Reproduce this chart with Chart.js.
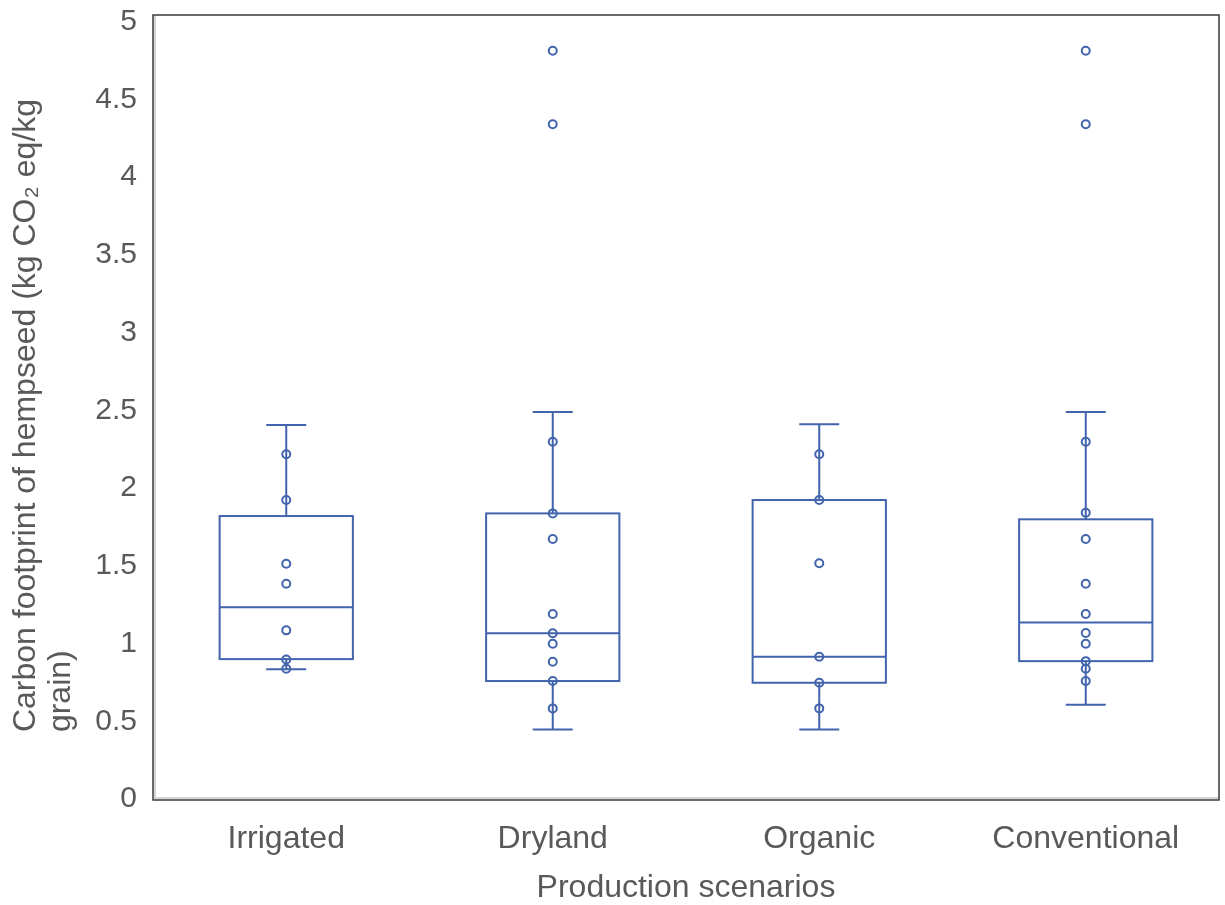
<!DOCTYPE html>
<html>
<head>
<meta charset="utf-8">
<title>Carbon footprint of hempseed</title>
<script src="https://cdn.jsdelivr.net/npm/chart.js@4"></script>
<style>
    html, body { margin: 0; padding: 0; background: #ffffff; }
    #wrap { width: 1225px; height: 905px; }
</style>
</head>
<body>
<div id="wrap"><canvas id="chart" width="1225" height="905"></canvas></div>
<script>
// ---- data ----
const categories = ["Irrigated", "Dryland", "Organic", "Conventional"];

// box statistics per scenario
const whiskerLow  = [0.834, 0.448, 0.448, 0.606];
const quartile1   = [0.900, 0.759, 0.748, 0.887];
const medians     = [1.233, 1.066, 0.915, 1.136];
const quartile3   = [1.820, 1.837, 1.923, 1.799];
const whiskerHigh = [2.405, 2.489, 2.41, 2.489];

// individual points shown on each box
const irrigatedPts    = [2.217, 1.923, 1.513, 1.385, 1.085, 0.898, 0.838];
const drylandPts      = [4.812, 4.339, 2.298, 1.837, 1.672, 1.19, 1.066, 0.999, 0.883, 0.759, 0.583];
const organicPts      = [2.217, 1.923, 1.516, 0.915, 0.748, 0.583];
const conventionalPts = [4.812, 4.339, 2.298, 1.841, 1.672, 1.385, 1.19, 1.068, 0.999, 0.887, 0.838, 0.759];

const yTicks = [0, 0.5, 1, 1.5, 2, 2.5, 3, 3.5, 4, 4.5, 5];

const BLUE = "#4164ad";
const TEXT = "#595959";
const FONT = "'Liberation Sans', Arial, sans-serif";

const allPoints = [irrigatedPts, drylandPts, organicPts, conventionalPts];
const scatterData = [];
allPoints.forEach((pts, i) => {
    pts.forEach(v => scatterData.push({ x: categories[i], y: v }));
});

// boxes, whiskers and caps drawn through the chart's scales
const boxPlugin = {
    id: "boxes",
    beforeDatasetsDraw(chart) {
        const { ctx, scales: { x, y } } = chart;
        const catW = x.width / categories.length;
        ctx.save();
        ctx.strokeStyle = BLUE;
        ctx.lineWidth = 2;
        categories.forEach((c, i) => {
            const cx = x.getPixelForValue(i);
            const half = catW * 0.25;
            const cap = catW * 0.075;
            const yLo = y.getPixelForValue(whiskerLow[i]);
            const yQ1 = y.getPixelForValue(quartile1[i]);
            const yMed = y.getPixelForValue(medians[i]);
            const yQ3 = y.getPixelForValue(quartile3[i]);
            const yHi = y.getPixelForValue(whiskerHigh[i]);
            ctx.strokeRect(cx - half, yQ3, half * 2, yQ1 - yQ3);
            ctx.beginPath();
            ctx.moveTo(cx - half, yMed); ctx.lineTo(cx + half, yMed);
            ctx.moveTo(cx, yQ3); ctx.lineTo(cx, yHi);
            ctx.moveTo(cx - cap, yHi); ctx.lineTo(cx + cap, yHi);
            ctx.moveTo(cx, yQ1); ctx.lineTo(cx, yLo);
            ctx.moveTo(cx - cap, yLo); ctx.lineTo(cx + cap, yLo);
            ctx.stroke();
        });
        ctx.restore();
    }
};

// plot frame with the light inner shadow on left and bottom
const framePlugin = {
    id: "frame",
    afterDraw(chart) {
        const { ctx, chartArea: a } = chart;
        ctx.save();
        ctx.strokeStyle = "#d4d4d4";
        ctx.lineWidth = 2;
        ctx.beginPath();
        ctx.moveTo(a.left + 2, a.top + 1);
        ctx.lineTo(a.left + 2, a.bottom - 2);
        ctx.lineTo(a.right - 1, a.bottom - 2);
        ctx.stroke();
        ctx.strokeStyle = "#3a3a3a";
        ctx.lineWidth = 1.5;
        ctx.strokeRect(a.left, a.top, a.right - a.left, a.bottom - a.top);
        ctx.restore();
    }
};

// two-line y title, lines left aligned like the original
const yTitleLines = ["Carbon footprint of hempseed (kg CO\u2082 eq/kg", "grain)"];
const yTitlePlugin = {
    id: "yTitle",
    afterDraw(chart) {
        const { ctx, chartArea: a } = chart;
        ctx.save();
        ctx.font = "32px " + FONT;
        ctx.fillStyle = TEXT;
        ctx.textAlign = "left";
        ctx.textBaseline = "middle";
        const maxW = Math.max(...yTitleLines.map(t => ctx.measureText(t).width));
        const startY = (a.top + a.bottom) / 2 + maxW / 2 + 8;
        const xs = [26, 61];
        yTitleLines.forEach((t, i) => {
            ctx.save();
            ctx.translate(xs[i], startY);
            ctx.rotate(-Math.PI / 2);
            ctx.fillText(t, 0, 0);
            ctx.restore();
        });
        ctx.restore();
    }
};

new Chart(document.getElementById("chart"), {
    type: "scatter",
    data: {
        labels: categories,
        datasets: [{
            data: scatterData,
            pointStyle: "circle",
            pointRadius: 4,
            pointBorderWidth: 2,
            pointBorderColor: BLUE,
            pointBackgroundColor: "rgba(0,0,0,0)"
        }]
    },
    options: {
        responsive: false,
        animation: false,
        layout: { padding: { top: 15, right: 5, bottom: 0, left: 0 } },
        plugins: {
            legend: { display: false },
            tooltip: { enabled: false }
        },
        scales: {
            x: {
                type: "category",
                labels: categories,
                offset: true,
                grid: { display: false, drawTicks: false },
                border: { display: false },
                ticks: { color: TEXT, font: { family: FONT, size: 32 }, padding: 20 },
                title: {
                    display: true,
                    text: "Production scenarios",
                    color: TEXT,
                    font: { family: FONT, size: 32, lineHeight: 1.05 },
                    padding: { top: 0, bottom: 0 }
                },
                afterFit(scale) {
                    scale.height = 105;
                    scale.paddingLeft = 0;
                    scale.paddingRight = 0;
                }
            },
            y: {
                type: "linear",
                // the frame sits a little above the 5 tick in the original
                min: -0.006,
                max: 5.042,
                grid: { display: false, drawTicks: false },
                border: { display: false },
                afterBuildTicks(scale) { scale.ticks = yTicks.map(v => ({ value: v })); },
                ticks: {
                    color: TEXT,
                    font: { family: FONT, size: 30, lineHeight: 1 },
                    padding: 16,
                    callback: v => String(Math.round(v * 10) / 10)
                },
                afterFit(scale) {
                    scale.width = 153;
                    scale.paddingTop = 0;
                    scale.paddingBottom = 0;
                }
            }
        }
    },
    plugins: [boxPlugin, framePlugin, yTitlePlugin]
});
</script>
</body>
</html>
